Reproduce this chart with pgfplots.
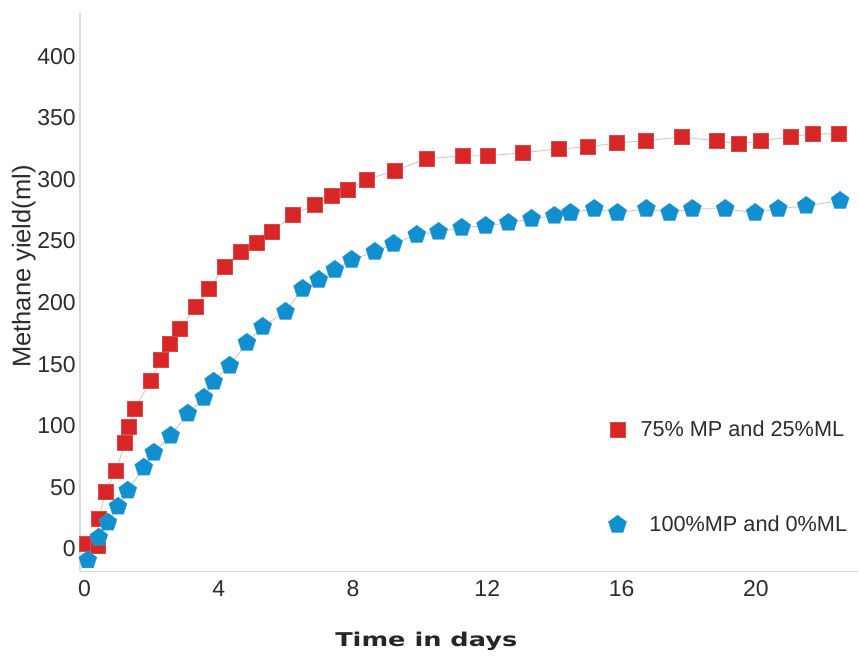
\documentclass[border=0pt]{standalone}
\usepackage{pgfplots}
\pgfplotsset{compat=1.18}
\usepackage{pgfplotstable}
\usetikzlibrary{plotmarks}
\usepackage{graphicx}
\usepackage{fontspec}
\setmainfont{Liberation Sans}
\newfontfamily\widefont{DejaVu Sans}

\definecolor{sqred}{RGB}{214,38,38}
\definecolor{pentblue}{RGB}{18,143,206}
\definecolor{trend}{RGB}{200,200,200}
\definecolor{axgray}{RGB}{218,218,218}
\definecolor{txt}{RGB}{45,45,45}

% 75% MP + 25% ML
\pgfplotstableread{
day val
0.07 4.5
0.40 2.9
0.43 24.8
0.64 46.7
0.94 63.7
1.21 86.4
1.33 99.4
1.50 114.0
1.98 136.7
2.28 153.7
2.54 166.7
2.84 178.9
3.32 196.7
3.71 211.3
4.18 229.2
4.66 241.3
5.13 248.6
5.58 257.6
6.21 271.4
6.86 279.4
7.37 286.7
7.84 291.6
8.41 299.7
9.24 307.0
10.19 316.7
11.26 319.2
12.01 319.2
13.05 321.6
14.12 324.8
14.99 326.4
15.85 329.7
16.71 331.3
17.78 334.5
18.82 331.3
19.48 328.9
20.16 331.3
21.03 334.5
21.68 337.0
22.46 337.0
}\mixtab

% 100% MP + 0% ML
\pgfplotstableread{
day val
0.10 -9.0
0.43 9.4
0.70 21.6
1.00 34.5
1.29 47.5
1.77 66.2
2.07 78.3
2.57 92.1
3.08 110.0
3.56 122.9
3.85 135.9
4.33 148.9
4.84 167.5
5.31 180.5
5.99 192.7
6.50 211.3
6.98 218.6
7.46 226.7
7.96 234.8
8.65 241.3
9.21 247.8
9.90 255.1
10.55 257.5
11.24 260.8
11.95 262.4
12.63 264.8
13.32 268.1
14.00 270.5
14.48 272.9
15.19 276.2
15.88 272.9
16.74 276.2
17.43 272.9
18.11 276.2
19.09 276.2
19.98 272.9
20.67 276.2
21.50 278.6
22.51 282.7
}\puretab

\begin{document}
\begin{tikzpicture}
\begin{axis}[
  scale only axis,
  width=779pt, height=559pt,
  xmin=-0.134, xmax=23.05,
  ymin=-18.2, ymax=435.1,
  axis lines*=left,
  axis line style={axgray, line width=1.6pt},
  major tick length=0pt,
  xtick={0,4,...,20},
  ytick={0,50,...,400},
  /pgf/number format/assume math mode=true,
  tick label style={font=\fontsize{23}{26}\selectfont, text=txt},
  yticklabel style={inner sep=0pt, xshift=-4pt},
  xticklabel style={inner sep=0pt, yshift=-9pt},
  ylabel={Methane yield(ml)},
  ylabel style={font=\fontsize{25.5}{28}\selectfont, text=txt,
    at={(axis description cs:-0.072,0.546)}, anchor=center},
  xlabel={\scalebox{1.35}[1]{\widefont\bfseries Time in days}},
  xlabel style={font=\fontsize{19}{22}\selectfont, text=black!85,
    at={(axis description cs:0.445,-0.125)}, anchor=center},
  legend style={at={(axis description cs:0.675,0.277)}, anchor=north west,
    draw=none, fill=none, row sep=74pt, text=txt,
    font=\fontsize{21.7}{24}\selectfont},
  legend cell align=left,
  clip=false,
]
\addplot[trend, line width=0.9pt, forget plot] table[x=day, y=val] {\mixtab};
\addplot[trend, line width=0.9pt, forget plot] table[x=day, y=val] {\puretab};
\addplot[only marks, mark=square*, mark size=7.5pt,
  mark options={fill=sqred, draw=sqred!85!white}] table[x=day, y=val] {\mixtab};
\addlegendentry{\hspace{12pt}75\% MP and 25\%ML}
\addplot[only marks, mark=pentagon*, mark size=9.5pt,
  mark options={fill=pentblue, draw=pentblue!85!white}] table[x=day, y=val] {\puretab};
\addlegendentry{\hspace{21pt}100\%MP and 0\%ML}
\end{axis}
\path (current axis.south west) ++(-80pt,-85pt) rectangle ++(859pt,657pt);
\end{tikzpicture}
\end{document}
